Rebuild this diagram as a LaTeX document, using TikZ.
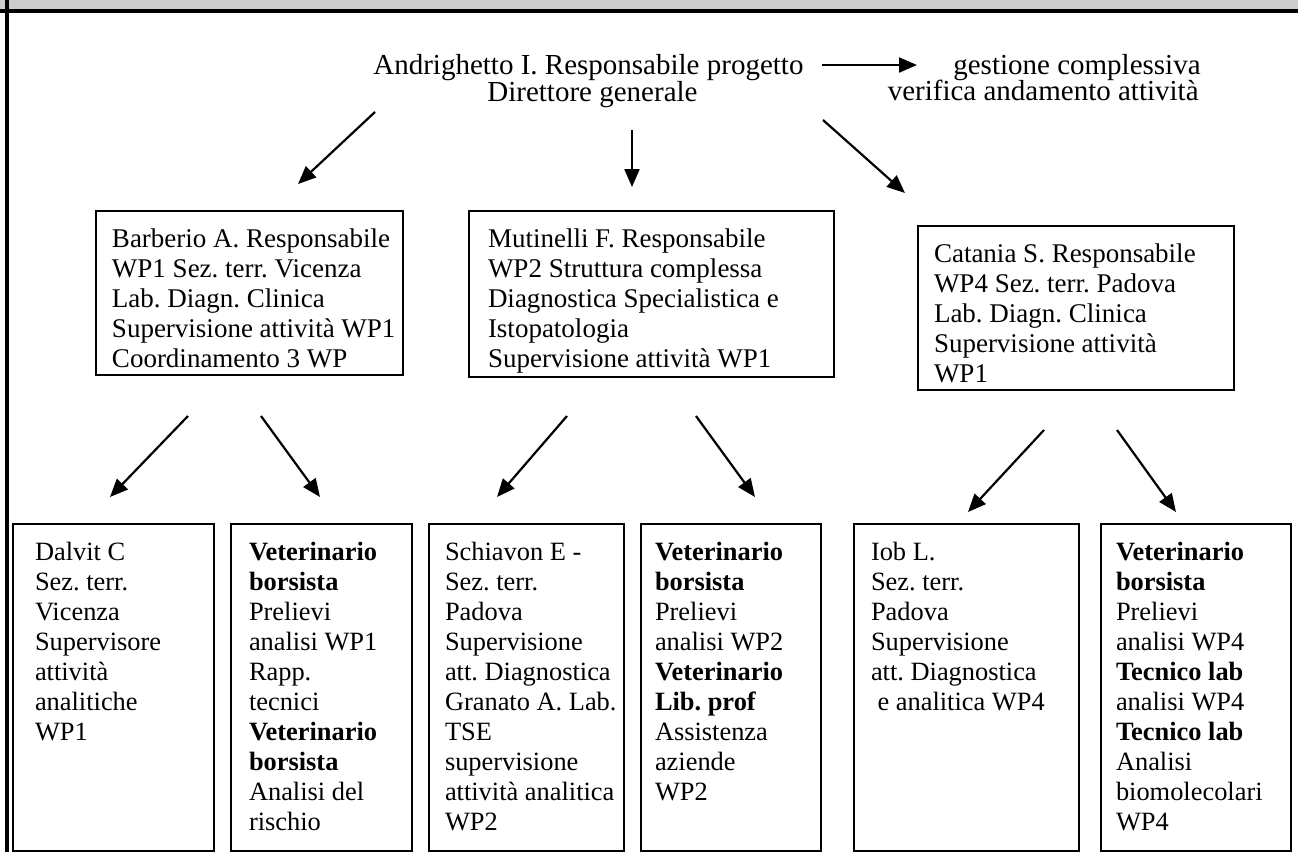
\documentclass[tikz,border=0pt]{standalone}
\usepackage{fontspec}
\setmainfont{Liberation Serif}
\usetikzlibrary{arrows.meta}
\definecolor{hdr}{HTML}{CCCCCC}
\frenchspacing
\newcommand\boxtxt[5]{\begin{minipage}[t][#2][t]{#1}\raggedright\leftskip=#3\relax\parindent=0pt\vspace*{#4}\strut#5\end{minipage}}
\begin{document}
\begin{tikzpicture}[x=0.5pt,y=-0.5pt, font=\fontsize{13.2pt}{15pt}\selectfont,
  box/.style={draw, line width=1pt, inner sep=0pt, anchor=north west},
  bigbox/.style={box, font=\fontsize{13.5pt}{15pt}\selectfont},
  lbl/.style={inner sep=0pt, anchor=base west, font=\fontsize{14.5pt}{15pt}\selectfont},
  arr/.style={line width=1.1pt, -{Triangle[length=9pt,width=7.5pt]}}]
\useasboundingbox (0,0) rectangle (1298,852);
\fill[hdr] (0,0) rectangle (1298,10);
\draw[line width=1.6pt] (0,11) -- (1298,11);
\draw[line width=1.6pt] (7,0) -- (7,852);

% top texts
\node[lbl] (t1) at (373,74) {Andrighetto I. Responsabile progetto};
\node[lbl] (t2) at (487,101) {Direttore generale};
\node[lbl, anchor=base east] (r1) at (1201,74) {gestione complessiva};
\node[lbl, anchor=base east] (r2) at (1199,100) {verifica andamento attività};

% level 2 boxes
\node[bigbox] (A) at (95,210) {\boxtxt{153.5pt}{82pt}{8pt}{7.5pt}{Barberio A. Responsabile\\WP1 Sez. terr. Vicenza\\Lab. Diagn. Clinica\\Supervisione attività WP1\\Coordinamento 3 WP}};
\node[bigbox] (B) at (468,210) {\boxtxt{182.5pt}{83pt}{9.5pt}{7.5pt}{Mutinelli F. Responsabile\\WP2 Struttura complessa\\Diagnostica Specialistica e\\Istopatologia\\Supervisione attività WP1}};
\node[bigbox] (C) at (917,225) {\boxtxt{158pt}{82pt}{8pt}{7.5pt}{Catania S. Responsabile\\WP4 Sez. terr. Padova\\Lab. Diagn. Clinica\\Supervisione attività\\WP1}};

% level 3 boxes
\node[box] (b1) at (12,523) {\boxtxt{100.5pt}{163.5pt}{11pt}{7.5pt}{Dalvit C\\Sez. terr.\\Vicenza\\Supervisore\\attività\\analitiche\\WP1}};
\node[box] (b2) at (230,523) {\boxtxt{90.5pt}{163.5pt}{9pt}{7.5pt}{\textbf{Veterinario}\\\textbf{borsista}\\Prelievi\\analisi WP1\\Rapp.\\tecnici\\\textbf{Veterinario}\\\textbf{borsista}\\Analisi del\\rischio}};
\node[box] (b3) at (428,523) {\boxtxt{97.5pt}{163.5pt}{8pt}{7.5pt}{Schiavon E -\\Sez. terr.\\Padova\\Supervisione\\att. Diagnostica\\Granato A. Lab.\\TSE\\supervisione\\attività analitica\\WP2}};
\node[box] (b4) at (640,523) {\boxtxt{90pt}{163.5pt}{7pt}{7.5pt}{\textbf{Veterinario}\\\textbf{borsista}\\Prelievi\\analisi WP2\\\textbf{Veterinario}\\\textbf{Lib. prof}\\Assistenza\\aziende\\WP2}};
\node[box] (b5) at (853,523) {\boxtxt{112.5pt}{163.5pt}{8.5pt}{7.5pt}{Iob L.\\Sez. terr.\\Padova\\Supervisione\\att. Diagnostica\\\ e analitica WP4}};
\node[box] (b6) at (1100,523) {\boxtxt{95pt}{163.5pt}{7.5pt}{7.5pt}{\textbf{Veterinario}\\\textbf{borsista}\\Prelievi\\analisi WP4\\\textbf{Tecnico lab}\\analisi WP4\\\textbf{Tecnico lab}\\Analisi\\biomolecolari\\WP4}};

% arrow end points
\coordinate (s0) at (822,65);  \coordinate (e0) at (917,65);
\coordinate (s1) at (375,112); \coordinate (e1) at (298,184);
\coordinate (s2) at (632,130); \coordinate (e2) at (632,187);
\coordinate (s3) at (823,120); \coordinate (e3) at (905,193);
\coordinate (s4) at (188,416); \coordinate (e4) at (110,497);
\coordinate (s5) at (261,416); \coordinate (e5) at (320,497);
\coordinate (s6) at (567,416); \coordinate (e6) at (497,497);
\coordinate (s7) at (696,416); \coordinate (e7) at (755,497);
\coordinate (s8) at (1044,430); \coordinate (e8) at (968,512);
\coordinate (s9) at (1117,430); \coordinate (e9) at (1176,512);
\foreach \i in {0,...,9} \draw[arr] (s\i) -- (e\i);
\end{tikzpicture}
\end{document}
